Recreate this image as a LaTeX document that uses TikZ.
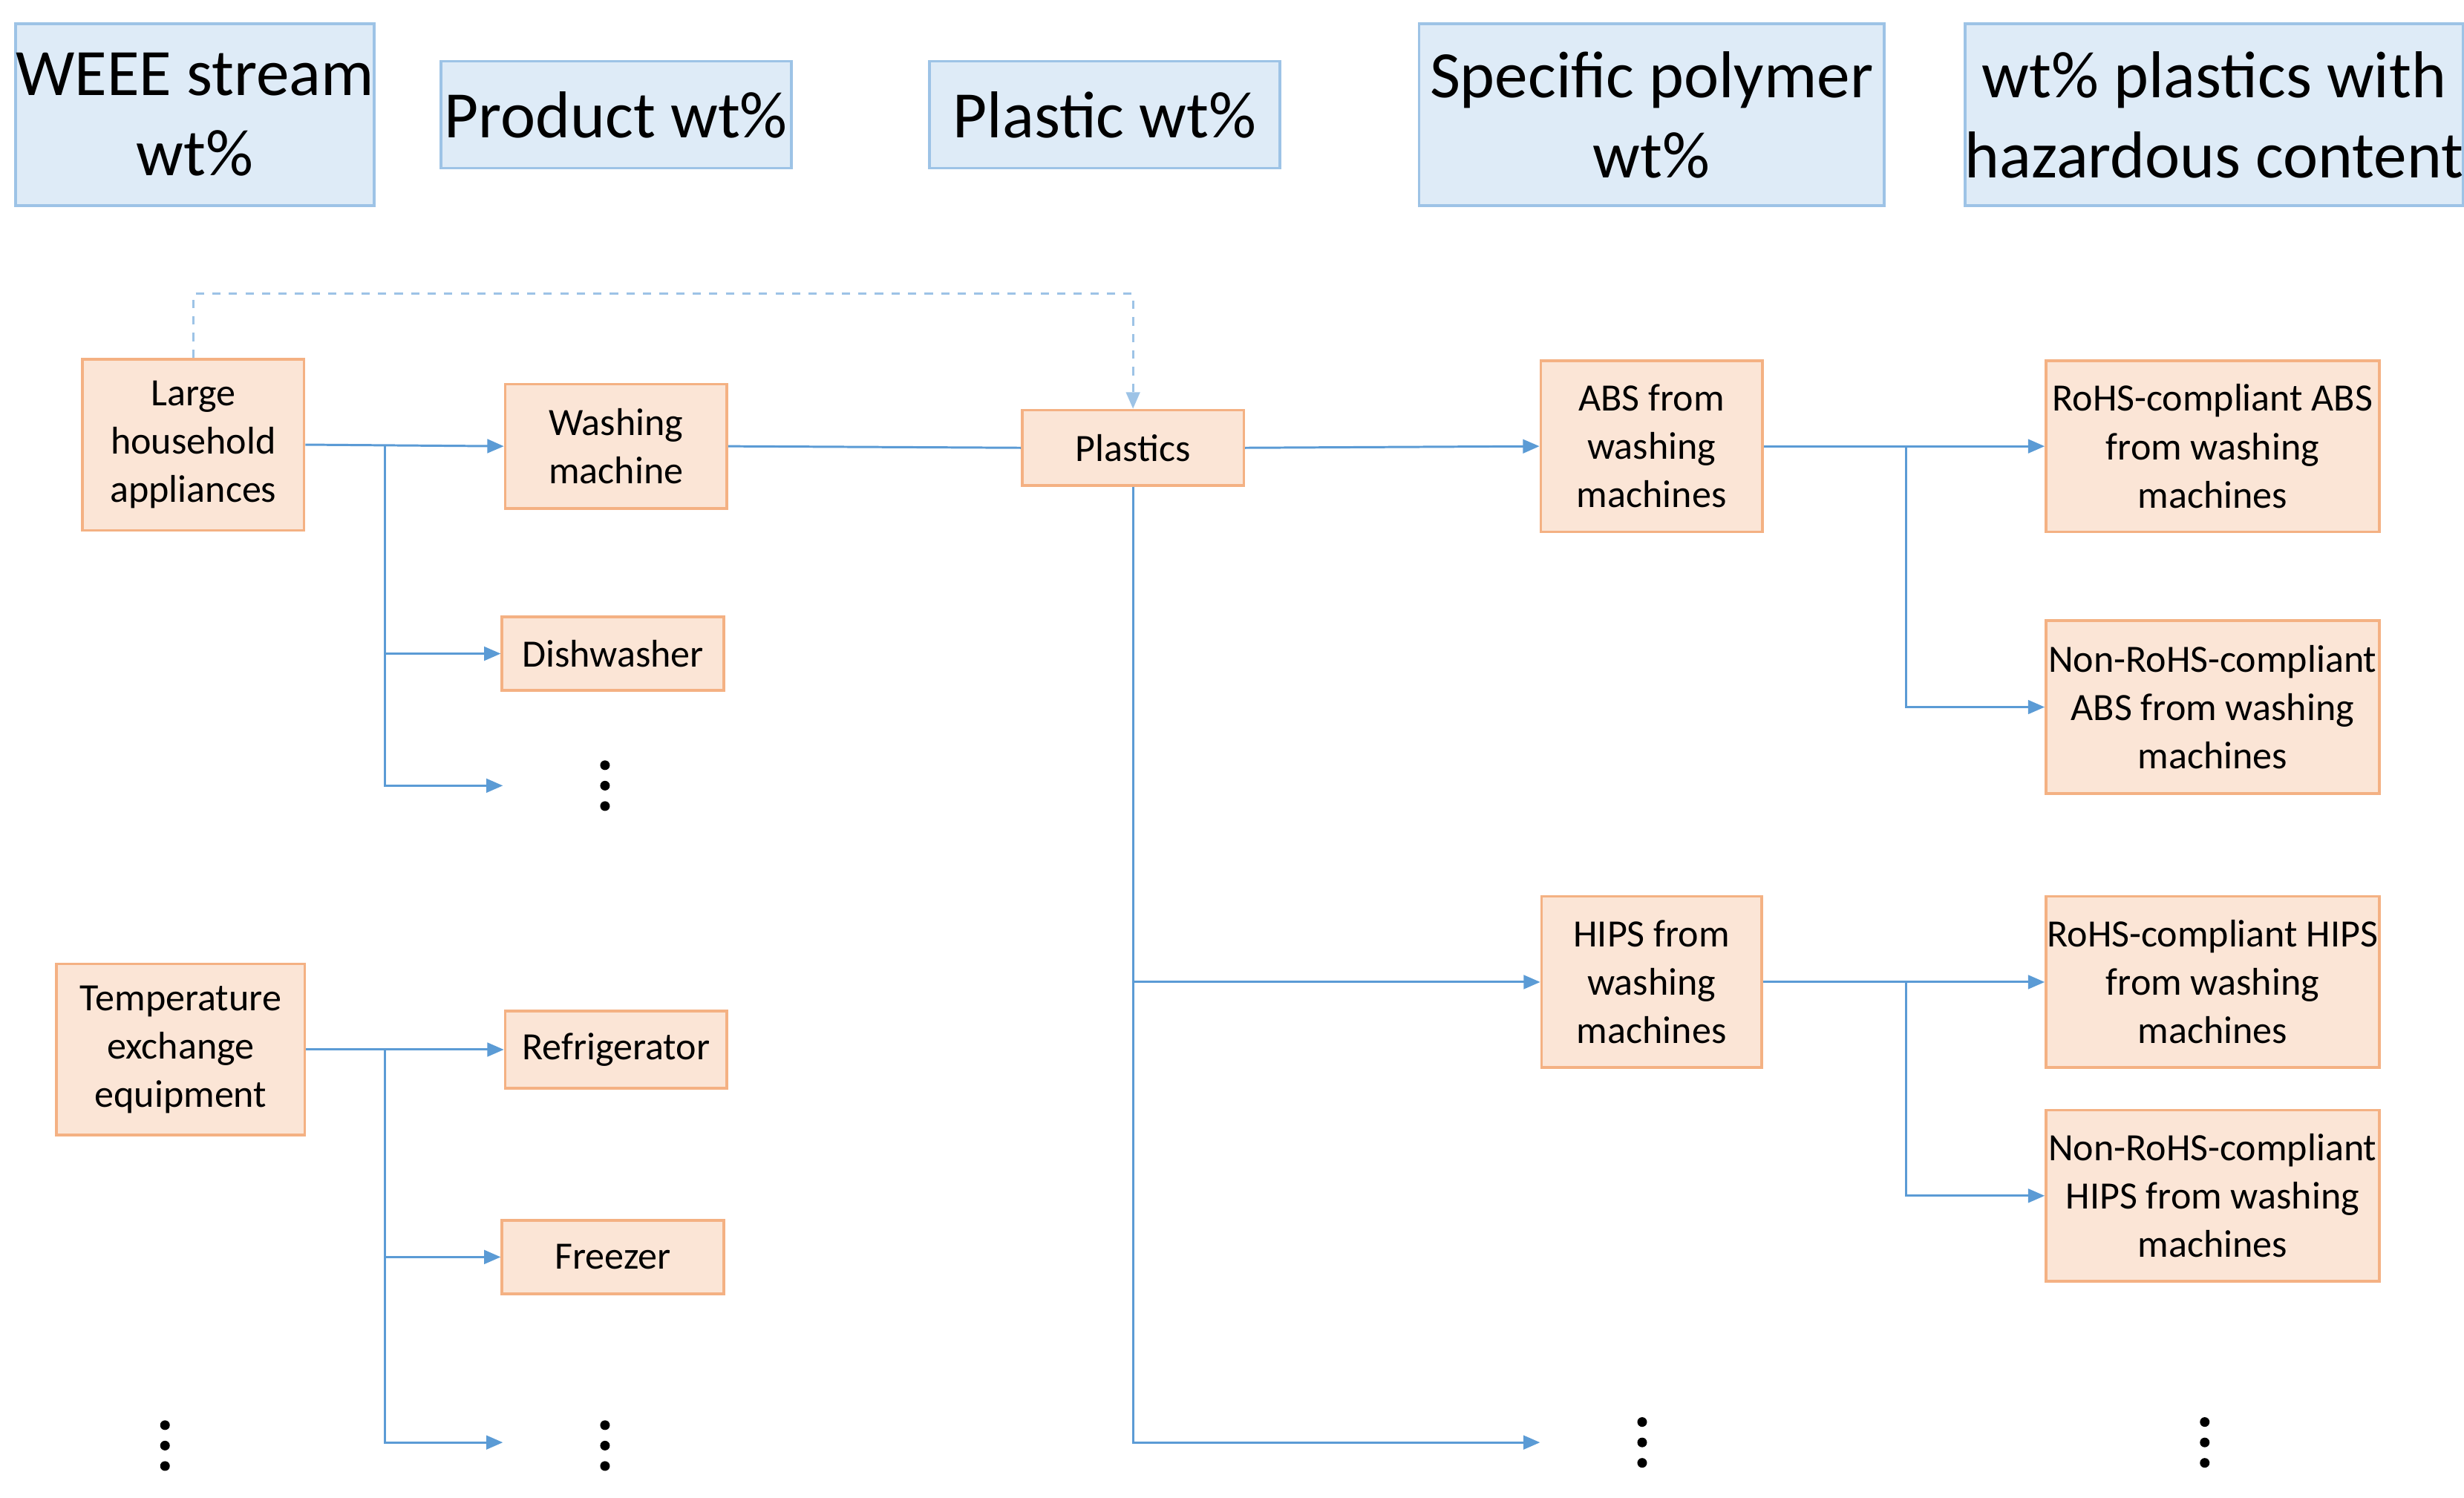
\documentclass[tikz,border=0pt]{standalone}
\usepackage{fontspec}
\setmainfont{Carlito}
\usetikzlibrary{arrows.meta}
\definecolor{hfill}{HTML}{DEEBF7}
\definecolor{hdraw}{HTML}{9DC3E6}
\definecolor{nfill}{HTML}{FBE5D6}
\definecolor{ndraw}{HTML}{F4B183}
\definecolor{arr}{HTML}{5B9BD5}
\begin{document}
\begin{tikzpicture}[x=0.02cm,y=-0.02cm,
 head/.style={draw=hdraw,fill=hfill,line width=1pt,align=center,inner sep=0pt,font=\fontsize{24}{29}\selectfont},
 box/.style={draw=ndraw,fill=nfill,line width=1pt,align=center,inner sep=0pt,font=\fontsize{14}{17.5}\selectfont},
 con/.style={draw=arr,line width=0.8pt},
 ar/.style={con,-{Triangle[length=6pt,width=5pt]}},
 dot/.style={fill=black,circle,inner sep=0pt,minimum size=3.5pt}]
\useasboundingbox (0,0) rectangle (1568,953);
\node[head,minimum width=4.48cm,minimum height=2.32cm] (h1) at (124,73) {WEEE stream\\wt\%};
\node[head,minimum width=4.46cm,minimum height=1.36cm] (h2) at (392,73) {Product wt\%};
\node[head,minimum width=4.46cm,minimum height=1.36cm] (h3) at (703,73) {Plastic wt\%};
\node[head,minimum width=5.92cm,minimum height=2.32cm] (h4) at (1051,73) {Specific polymer\\wt\%};
\node[head,minimum width=5.92cm,minimum height=2.32cm] (h5) at (1409,73) {wt\% plastics with\\hazardous content};

\node[box,minimum width=2.82cm,minimum height=2.18cm] (lha) at (123,283) {Large\\household\\appliances};
\node[box,minimum width=2.82cm,minimum height=1.58cm] (wm) at (392,284) {Washing\\machine};
\node[box,minimum width=2.82cm,minimum height=0.94cm] (dw) at (390,416) {Dishwasher};
\node[box,minimum width=3.16cm,minimum height=2.18cm] (tee) at (115,668) {Temperature\\exchange\\equipment};
\node[box,minimum width=2.82cm,minimum height=0.98cm] (rf) at (392,668) {Refrigerator};
\node[box,minimum width=2.82cm,minimum height=0.94cm] (fz) at (390,800) {Freezer};
\node[box,minimum width=2.82cm,minimum height=0.96cm] (pl) at (721,285) {Plastics};
\node[box,minimum width=2.82cm,minimum height=2.18cm] (abs) at (1051,284) {ABS from\\washing\\machines};
\node[box,minimum width=2.80cm,minimum height=2.18cm] (hips) at (1051,625) {HIPS from\\washing\\machines};
\node[box,minimum width=4.24cm,minimum height=2.18cm] (ra) at (1408,284) {RoHS-compliant ABS\\from washing\\machines};
\node[box,minimum width=4.24cm,minimum height=2.20cm] (na) at (1408,450) {Non-RoHS-compliant\\ABS from washing\\machines};
\node[box,minimum width=4.24cm,minimum height=2.18cm] (rh) at (1408,625) {RoHS-compliant HIPS\\from washing\\machines};
\node[box,minimum width=4.24cm,minimum height=2.18cm] (nh) at (1408,761) {Non-RoHS-compliant\\HIPS from washing\\machines};

\foreach \n/\x/\y in {d1/385/500,d2/385/920,d3/105/920,d4/1045/918,d5/1403/918}{
 \node[dot] (\n a) at (\x,\y-13) {};
 \node[dot] (\n b) at (\x,\y) {};
 \node[dot] (\n c) at (\x,\y+13) {};}

\coordinate (e1) at (320,500);
\coordinate (e2) at (320,918);
\coordinate (e3) at (980,918);

\draw[ar] (lha.east) -- (wm.west);
\draw[ar] (245,283) |- (dw.west);
\draw[ar] (245,283) |- (e1);
\draw[ar] (tee.east) -- (rf.west);
\draw[ar] (245,668) |- (fz.west);
\draw[ar] (245,668) |- (e2);
\draw[con] (wm.east) -- (pl.west);
\draw[con,hdraw,dashed,-{Triangle[length=6pt,width=5pt]}] (lha.north) -- (123,187) -| (pl.north);
\draw[ar] (pl.east) -- (abs.west);
\draw[ar] (pl.south) |- (hips.west);
\draw[ar] (pl.south) |- (e3);
\draw[ar] (abs.east) -- (ra.west);
\draw[ar] (1213,284) |- (na.west);
\draw[ar] (hips.east) -- (rh.west);
\draw[ar] (1213,625) |- (nh.west);
\end{tikzpicture}
\end{document}
